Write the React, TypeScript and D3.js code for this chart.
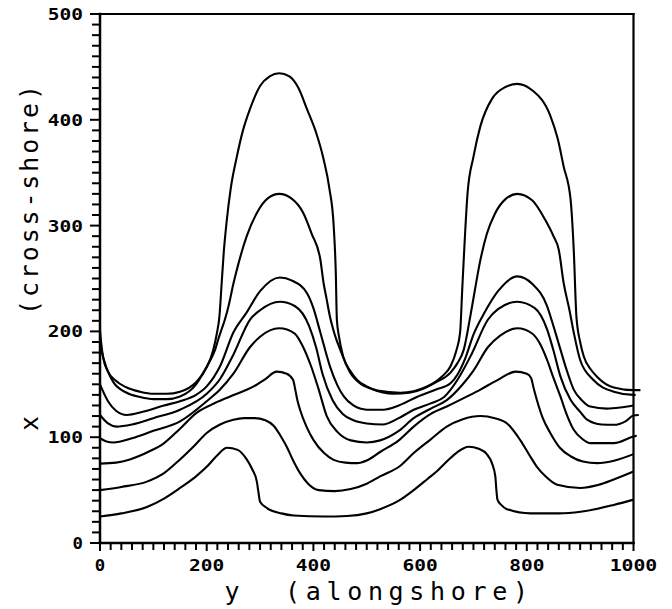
import React, { useEffect, useRef } from 'react';
import * as d3 from 'd3';

type P = [number, number];

// alongshore position y (horizontal) vs cross-shore position x (vertical)
const curve1: P[] = [
  [0, 25], [40, 28], [88, 34], [120, 42], [150, 52], [180, 63], [200, 72], [220, 83], [238, 90], [258, 88],
  [275, 79], [286, 69], [294, 58], [297, 48], [300, 39], [313, 33], [340, 28], [363, 26], [420, 25], [463, 25.5],
  [500, 28], [525, 32], [560, 40], [588, 50], [615, 61], [632, 68], [650, 77], [670, 86], [691, 91], [710, 89],
  [725, 84], [735, 75], [741, 63], [743, 50], [745, 41], [752, 36], [763, 32], [807, 28], [860, 28], [901, 29.5],
  [963, 36], [1000, 41],
];
const curve2: P[] = [
  [0, 50], [40, 53], [88, 58], [120, 66], [150, 79], [175, 91], [200, 104], [225, 112], [250, 116.5], [270, 118],
  [290, 118], [310, 116], [325, 111], [340, 100], [350, 91], [362, 78], [375, 66], [390, 56], [410, 50], [440, 49],
  [470, 51], [500, 56], [525, 63], [563, 73], [588, 85], [620, 98], [650, 110], [680, 117], [713, 120], [740, 118],
  [763, 113], [788, 97], [805, 83], [819, 72], [835, 63], [857, 55], [900, 52], [935, 55], [963, 60], [1000, 67.5],
];
const curve3: P[] = [
  [0, 75], [30, 76], [56, 79], [90, 86], [119, 94], [150, 108], [181, 123], [210, 131], [244, 138.5], [288, 148],
  [310, 155], [331, 162], [350, 160], [362, 154], [366, 145], [370, 135], [375, 126], [387, 110], [400, 97.5], [420, 85],
  [438, 78.6], [460, 76], [482, 75.5], [500, 78], [525, 86], [560, 97], [588, 110], [620, 122], [650, 129], [690, 139],
  [713, 145], [745, 154], [779, 162], [800, 160], [808, 156], [813, 146], [819, 135], [830, 118], [844, 104], [862, 90],
  [882, 82], [905, 77], [932, 75.5], [965, 78], [1000, 84],
];
const curve4: P[] = [
  [0, 99], [12, 96], [25, 95], [60, 99], [100, 106], [150, 115], [200, 134], [225, 145], [250, 160], [281, 185],
  [300, 195], [336, 203], [365, 198], [380, 186], [395, 168], [410, 145], [425, 120], [445, 105], [470, 97], [500, 95],
  [525, 97], [560, 106], [588, 118], [620, 127], [650, 135], [680, 150], [700, 163], [727, 185], [750, 196], [782, 203],
  [810, 198], [825, 188], [838, 173], [850, 156], [863, 138.5], [876, 120], [888, 107], [905, 98], [919, 94.4], [963, 94.4],
  [1000, 100.7], [1006, 101.5],
];
const curve5: P[] = [
  [0, 121], [15, 113], [31, 110], [60, 112], [100, 118], [150, 126], [200, 141], [225, 155], [250, 178], [281, 211],
  [300, 220], [337, 228], [365, 224], [392, 205], [405, 185], [417, 160], [436, 135], [455, 122], [475, 116], [500, 113],
  [530, 112], [560, 118], [588, 126], [620, 132], [645, 138], [671, 155], [696, 178], [727, 211], [746, 221], [782, 228],
  [815, 222], [838, 202], [850, 182], [863, 157.5], [882, 135.4], [900, 124], [913, 116.5], [940, 112], [963, 111.7], [985, 115],
  [1000, 120.5], [1010, 121],
];
const curve6: P[] = [
  [0, 150], [15, 134], [30, 125], [50, 121], [80, 124], [120, 130], [150, 134], [180, 140], [200, 148], [225, 167],
  [250, 199], [275, 218], [300, 238], [337, 251], [360, 248], [388, 236], [400, 222], [413, 199], [431, 167], [445, 149],
  [457, 138.5], [475, 130], [500, 126], [531, 126], [560, 130], [594, 138], [630, 145], [657, 151], [671, 160], [685, 175],
  [700, 197], [721, 218], [746, 238], [782, 252], [810, 245], [838, 224], [850, 205], [863, 183], [875, 163], [888, 145],
  [903, 135], [919, 129], [950, 127], [975, 128], [1000, 130],
];
const curve7: P[] = [
  [0, 188], [8, 172], [25, 152], [50, 142], [75, 138], [100, 136], [125, 136], [150, 138.5], [180, 150], [197, 164],
  [210, 176], [216, 183], [222, 193], [228, 202], [234, 211], [241, 224], [250, 245], [260, 265], [275, 290], [294, 312],
  [315, 326], [336, 330], [358, 326], [381, 312], [397, 292], [413, 268], [419, 246], [425, 230], [431, 214], [440, 197],
  [450, 183], [469, 161], [490, 150], [507, 146], [550, 141], [580, 142], [607, 146], [630, 152], [657, 161], [670, 170],
  [682, 183], [694, 214], [702, 237], [712, 265], [725, 292], [740, 311], [760, 325], [782, 330], [810, 324], [835, 305],
  [850, 290], [860, 277], [869, 246], [880, 220], [888, 199], [900, 173], [925, 154], [963, 143], [1000, 140], [1004, 140],
];
const curve8: P[] = [
  [0, 201], [2, 190], [6, 175], [15, 162], [28, 154], [50, 147], [75, 143], [100, 141], [125, 141], [150, 143],
  [180, 152], [200, 166], [212, 182], [219, 198], [224, 215], [228, 245], [232, 275], [237, 302], [245, 335], [256, 364],
  [268, 390], [281, 410], [300, 432], [318, 441], [336, 444], [355, 441], [372, 430], [388, 410], [405, 388], [419, 363],
  [430, 335], [438, 300], [442, 255], [444, 211], [448, 195], [456, 176], [470, 162], [482, 154], [500, 148], [520, 144],
  [563, 142], [613, 148], [640, 157], [657, 167], [668, 182], [675, 199], [679, 240], [683, 280], [689, 331], [700, 365],
  [713, 394], [735, 420], [760, 431], [782, 434], [810, 428], [844, 404], [858, 382], [869, 356], [882, 325], [888, 277],
  [893, 214], [900, 190], [907, 176], [920, 164], [932, 157], [963, 147], [1000, 144.5], [1013, 144.5],
];

const curves: P[][] = [curve1, curve2, curve3, curve4, curve5, curve6, curve7, curve8];

const xTickLabels = [0, 200, 400, 600, 800, 1000];
const yTickLabels = [0, 100, 200, 300, 400, 500];
const xTitleVar = 'y';
const xTitleText = '(alongshore)';
const yTitleVar = 'x';
const yTitleText = '(cross-shore)';

export default function App() {
  const ref = useRef<SVGSVGElement>(null);

  useEffect(() => {
    const svg = d3.select(ref.current);
    svg.selectAll('*').remove();

    const x = d3.scaleLinear().domain([0, 1000]).range([100, 633.5]);
    const y = d3.scaleLinear().domain([0, 500]).range([543, 14]);
    const font = "'DejaVu Sans Mono', monospace";

    // curves
    const line = d3
      .line<P>()
      .x((d) => x(d[0]))
      .y((d) => y(d[1]))
      .curve(d3.curveMonotoneX);

    svg
      .append('g')
      .selectAll('path')
      .data(curves)
      .enter()
      .append('path')
      .attr('d', (d) => line(d) as string)
      .attr('fill', 'none')
      .attr('stroke', '#000')
      .attr('stroke-width', 2.1)
      .attr('stroke-linejoin', 'round');

    // frame
    const [x0, x1] = x.range();
    const [y0, y1] = y.range();
    const frame = svg.append('g').attr('stroke', '#000').attr('stroke-width', 2.5).attr('stroke-linecap', 'square');
    frame.append('line').attr('x1', x0).attr('x2', x0).attr('y1', y0).attr('y2', y1);
    frame.append('line').attr('x1', x0).attr('x2', x1).attr('y1', y0).attr('y2', y0);
    frame.append('line').attr('x1', x0).attr('x2', x1).attr('y1', y1).attr('y2', y1).attr('stroke-width', 2.2);
    frame.append('line').attr('x1', x1).attr('x2', x1).attr('y1', y0).attr('y2', y1).attr('stroke-width', 2.2);

    // y ticks (every 10)
    const yt = svg.append('g').attr('stroke', '#000').attr('stroke-width', 2);
    d3.range(0, 501, 10).forEach((v) => {
      const major = v % 100 === 0;
      yt.append('line')
        .attr('x1', x0 - (major ? 10 : 8))
        .attr('x2', x0)
        .attr('y1', y(v))
        .attr('y2', y(v));
    });
    // x ticks (every 20)
    const xt = svg.append('g').attr('stroke', '#000').attr('stroke-width', 2);
    d3.range(0, 1001, 20).forEach((v) => {
      const major = v % 200 === 0;
      xt.append('line')
        .attr('x1', x(v))
        .attr('x2', x(v))
        .attr('y1', y0)
        .attr('y2', y0 + (major ? 8 : 7));
    });

    // tick labels
    const charW = 12.4;
    const lw = (d: number) => String(d).length * charW - 2;
    svg
      .append('g')
      .selectAll('text')
      .data(yTickLabels)
      .enter()
      .append('text')
      .attr('x', (d) => 83 - lw(d))
      .attr('y', (d) => y(d) + 6)
      .attr('font-family', font)
      .attr('font-weight', 'bold')
      .attr('font-size', 16.5)
      .attr('textLength', lw)
      .attr('lengthAdjust', 'spacingAndGlyphs')
      .text((d) => String(d));

    svg
      .append('g')
      .selectAll('text')
      .data(xTickLabels)
      .enter()
      .append('text')
      .attr('x', (d) => x(d) - lw(d) / 2)
      .attr('y', 571)
      .attr('font-family', font)
      .attr('font-weight', 'bold')
      .attr('font-size', 16.5)
      .attr('textLength', lw)
      .attr('lengthAdjust', 'spacingAndGlyphs')
      .text((d) => String(d));

    // x-axis title
    svg
      .append('text')
      .attr('x', 232)
      .attr('y', 600)
      .attr('text-anchor', 'middle')
      .attr('font-family', font)
      .attr('font-size', 25)
      .text(xTitleVar);
    svg
      .append('text')
      .attr('x', 285)
      .attr('y', 600)
      .attr('font-family', font)
      .attr('font-size', 25)
      .attr('textLength', 243)
      .attr('lengthAdjust', 'spacing')
      .text(xTitleText);

    // y-axis title (rotated)
    svg
      .append('text')
      .attr('transform', 'translate(38,431) rotate(-90)')
      .attr('font-family', font)
      .attr('font-size', 25)
      .text(yTitleVar);
    svg
      .append('text')
      .attr('transform', 'translate(38,315) rotate(-90)')
      .attr('font-family', font)
      .attr('font-size', 25)
      .attr('textLength', 230)
      .attr('lengthAdjust', 'spacing')
      .text(yTitleText);
  }, []);

  return (
    <svg
      ref={ref}
      width={672}
      height={609}
      style={{ position: 'absolute', left: 0, top: 0, background: '#fff' }}
    />
  );
}
